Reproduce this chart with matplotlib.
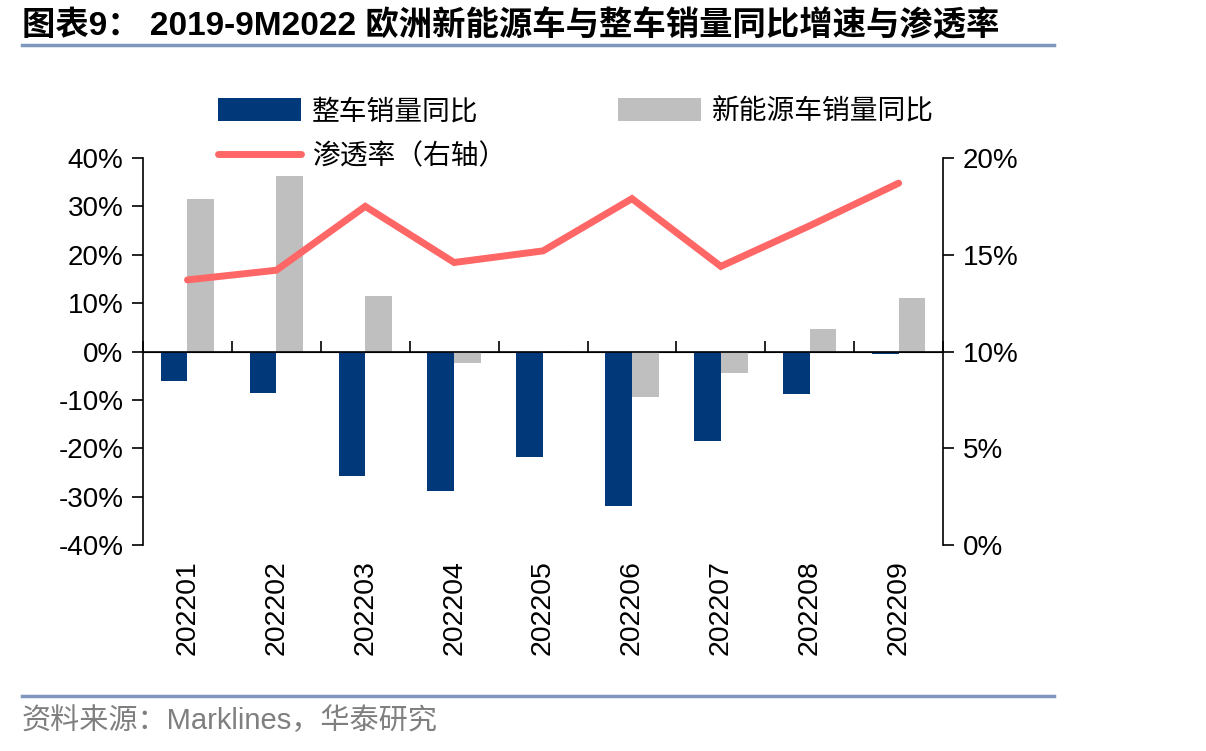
import matplotlib

matplotlib.use("Agg")
import matplotlib.pyplot as plt
import numpy as np
from matplotlib.ticker import FuncFormatter

plt.rcParams["font.family"] = ["Liberation Sans", "Noto Sans CJK SC", "DejaVu Sans"]

# data
months = ["202201", "202202", "202203", "202204", "202205",
          "202206", "202207", "202208", "202209"]
total_yoy = [-6.2, -8.5, -25.8, -28.9, -21.8, -32.0, -18.6, -8.7, -0.6]   # 整车销量同比 (%)
nev_yoy = [31.5, 36.3, 11.4, -2.3, 0.2, -9.4, -4.4, 4.7, 11.0]           # 新能源车销量同比 (%)
penetration = [13.7, 14.2, 17.5, 14.6, 15.2, 17.9, 14.4, 16.5, 18.7]     # 渗透率 (%), right axis

BLUE = "#003879"
GREY = "#BFBFBF"
RED = "#FF6767"
CJK = ["Noto Sans CJK SC", "DejaVu Sans"]

fig = plt.figure(figsize=(12.06, 7.51), dpi=100)
ax = fig.add_axes([0.1186, 0.2743, 0.6634, 0.5153])
x = np.arange(len(months))
w = 0.3

b1 = ax.bar(x - 0.15, total_yoy, w, color=BLUE, label="整车销量同比", zorder=2)
b2 = ax.bar(x + 0.15, nev_yoy, w, color=GREY, label="新能源车销量同比", zorder=2)
ax.set_ylim(-40, 40)
ax.set_xlim(-0.5, len(months) - 0.5)
ax.set_yticks(np.arange(-40, 41, 10))
ax.yaxis.set_major_formatter(FuncFormatter(lambda v, _: f"{v:.0f}%"))
ax.axhline(0, color="black", lw=1.2, zorder=3)

# category labels at the bottom, boundary ticks on the zero line
ax.set_xticks(x)
ax.set_xticklabels(months, rotation=90, fontsize=20.5)
ax.tick_params(axis="x", length=0, pad=11)
sec = ax.secondary_xaxis(0.5)
sec.set_xticks(np.arange(-0.5, len(months), 1.0))
sec.set_xticklabels([])
sec.tick_params(axis="x", direction="out", length=8, width=1.2)
sec.spines["bottom"].set_visible(False)

for s in ["top", "right", "bottom"]:
    ax.spines[s].set_visible(False)
ax.spines["left"].set_linewidth(1.2)
ax.tick_params(axis="y", direction="out", length=8, width=1.2, labelsize=20, pad=6)

ax2 = ax.twinx()
ln, = ax2.plot(x, penetration, color=RED, lw=5, solid_capstyle="round",
               solid_joinstyle="miter", label="渗透率（右轴）", zorder=4)
ax2.set_ylim(0, 20)
ax2.set_yticks(np.arange(0, 21, 5))
ax2.yaxis.set_major_formatter(FuncFormatter(lambda v, _: f"{v:.0f}%"))
for s in ["top", "left", "bottom"]:
    ax2.spines[s].set_visible(False)
ax2.spines["right"].set_linewidth(1.2)
ax2.tick_params(axis="y", direction="out", length=8, width=1.2, labelsize=20, pad=6)

leg = fig.legend([b1, ln, b2], ["整车销量同比", "渗透率（右轴）", "新能源车销量同比"],
                 ncol=2, loc="upper left", bbox_to_anchor=(0.16, 0.905),
                 frameon=False, prop={"family": CJK, "size": 20},
                 handlelength=3.0, handleheight=0.9, handletextpad=0.4,
                 columnspacing=4.0, labelspacing=0.55)

# title, rules and source
fig.text(0.018, 0.965, "图表9： 2019-9M2022 欧洲新能源车与整车销量同比增速与渗透率",
         fontsize=24, fontweight="bold", va="center", ha="left",
         family=["Liberation Sans", "Noto Sans CJK SC"])
fig.add_artist(plt.Line2D([0.018, 0.874], [0.94, 0.94], color="#7F97BD", lw=2.5))
fig.add_artist(plt.Line2D([0.018, 0.874], [0.073, 0.073], color="#7F97BD", lw=2.5))
fig.text(0.018, 0.04, "资料来源：Marklines，华泰研究", fontsize=21, color="#7F7F7F",
         va="center", ha="left", family=["Liberation Sans", "Noto Sans CJK SC"])

fig.savefig("out.png", dpi=100)
